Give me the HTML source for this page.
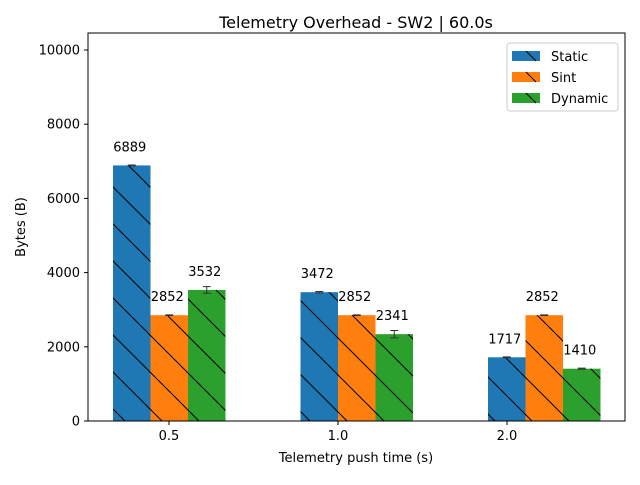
<!DOCTYPE html>
<html><head><meta charset="utf-8"><style>
body{margin:0;background:#fff;font-family:"Liberation Sans","DejaVu Sans",sans-serif}
svg text{font-family:"DejaVu Sans","Liberation Sans",sans-serif}
</style></head><body>
<svg id="chart" width="640" height="480" xmlns="http://www.w3.org/2000/svg">
<defs>
<pattern id="hatch" patternUnits="userSpaceOnUse" width="37" height="37">
<path d="M-5,-5 L42,42 M-5,32 L5,42 M32,-5 L42,5" stroke="#000" stroke-width="1"/>
</pattern>
</defs>
<rect x="0" y="0" width="640" height="480" fill="#fff"/>
<text x="356" y="28" font-size="16" text-anchor="middle">Telemetry Overhead - SW2 | 60.0s</text>
<g id="plot"></g>
<rect x="88" y="33" width="537" height="388" fill="none" stroke="#000" stroke-width="1"/>
<text x="356" y="462" font-size="13" text-anchor="middle">Telemetry push time (s)</text>
<text transform="translate(25,227) rotate(-90)" font-size="13" text-anchor="middle">Bytes (B)</text>
<g>
<rect x="507" y="43" width="111" height="68" fill="#fff" stroke="#ccc" rx="3"/>
</g>
</svg>
<script>
const categories = ["0.5", "1.0", "2.0"];
const seriesNames = ["Static", "Sint", "Dynamic"];
const staticVals = [6889, 3472, 1717];
const sintVals = [2852, 2852, 2852];
const dynamicVals = [3532, 2341, 1410];
const staticErr = [10, 20, 10];
const sintErr = [10, 10, 10];
const dynamicErr = [90, 100, 15];
const yTicks = [0, 2000, 4000, 6000, 8000, 10000];
const colors = ["#1f77b4", "#ff7f0e", "#2ca02c"];

const svg = document.getElementById('chart');
const plot = document.getElementById('plot');
const NS = "http://www.w3.org/2000/svg";
const y0 = 421, pxPer = 371 / 10000;
function yScale(v){ return y0 - v * pxPer; }
function tickX(i){ return 169 + 169 * i; }
function groupStart(i){ return 113 + 187.5 * i; }
const bw = 37.5;
function mk(tag, attrs){ const e = document.createElementNS(NS, tag); for (const k in attrs) e.setAttribute(k, attrs[k]); return e; }

yTicks.forEach(t => {
  const y = yScale(t);
  const l = mk('line', {x1:84, x2:88, y1:y, y2:y, stroke:'#000'});
  
  
  svg.appendChild(l);
  const tx = mk('text', {x:80, y:y+4.5, 'font-size':13, 'text-anchor':'end'});
  
  
  tx.textContent = t; svg.appendChild(tx);
});
categories.forEach((c, i) => {
  const x = tickX(i);
  const l = mk('line', {x1:x, x2:x, y1:421, y2:425, stroke:'#000'});
  
  
  svg.appendChild(l);
  const tx = mk('text', {x:x, y:440, 'font-size':13, 'text-anchor':'middle'});
  
  
  tx.textContent = c; svg.appendChild(tx);
});

const allVals = [staticVals, sintVals, dynamicVals];
const allErr = [staticErr, sintErr, dynamicErr];
allVals.forEach((vals, s) => {
  vals.forEach((v, i) => {
    const x = groupStart(i) + s * bw;
    const y = yScale(v);
    const r = mk('rect', {x:x, y:y, width:bw, height:y0 - y, fill:colors[s]});
    
    
    plot.appendChild(r);
    const h = mk('rect', {x:x, y:y, width:bw, height:y0 - y, fill:'url(#hatch)'});
    
    
    plot.appendChild(h);
    const cx = x + bw/2, e = allErr[s][i];
    const eb = mk('path', {d:`M${cx},${yScale(v+e)}V${yScale(v-e)}M${cx-4},${yScale(v+e)}H${cx+4}M${cx-4},${yScale(v-e)}H${cx+4}`, stroke:'#333', 'stroke-width':1, fill:'none'});
    
    
    plot.appendChild(eb);
    const t = mk('text', {x:cx - 2, y:y - 14, 'font-size':13, 'text-anchor':'middle'});
    
    
    t.textContent = v; plot.appendChild(t);
  });
});

seriesNames.forEach((n, s) => {
  const y = 51 + s * 21;
  const r = mk('rect', {x:512, y:y, width:28, height:10, fill:colors[s]});
  
  
  svg.appendChild(r);
  const l = mk('line', {x1:526, y1:y, x2:536, y2:y+10, stroke:'#000'});
  
  
  svg.appendChild(l);
  const t = mk('text', {x:551, y:y+10, 'font-size':13});
  
  
  t.textContent = n; svg.appendChild(t);
});
</script>
</body></html>
